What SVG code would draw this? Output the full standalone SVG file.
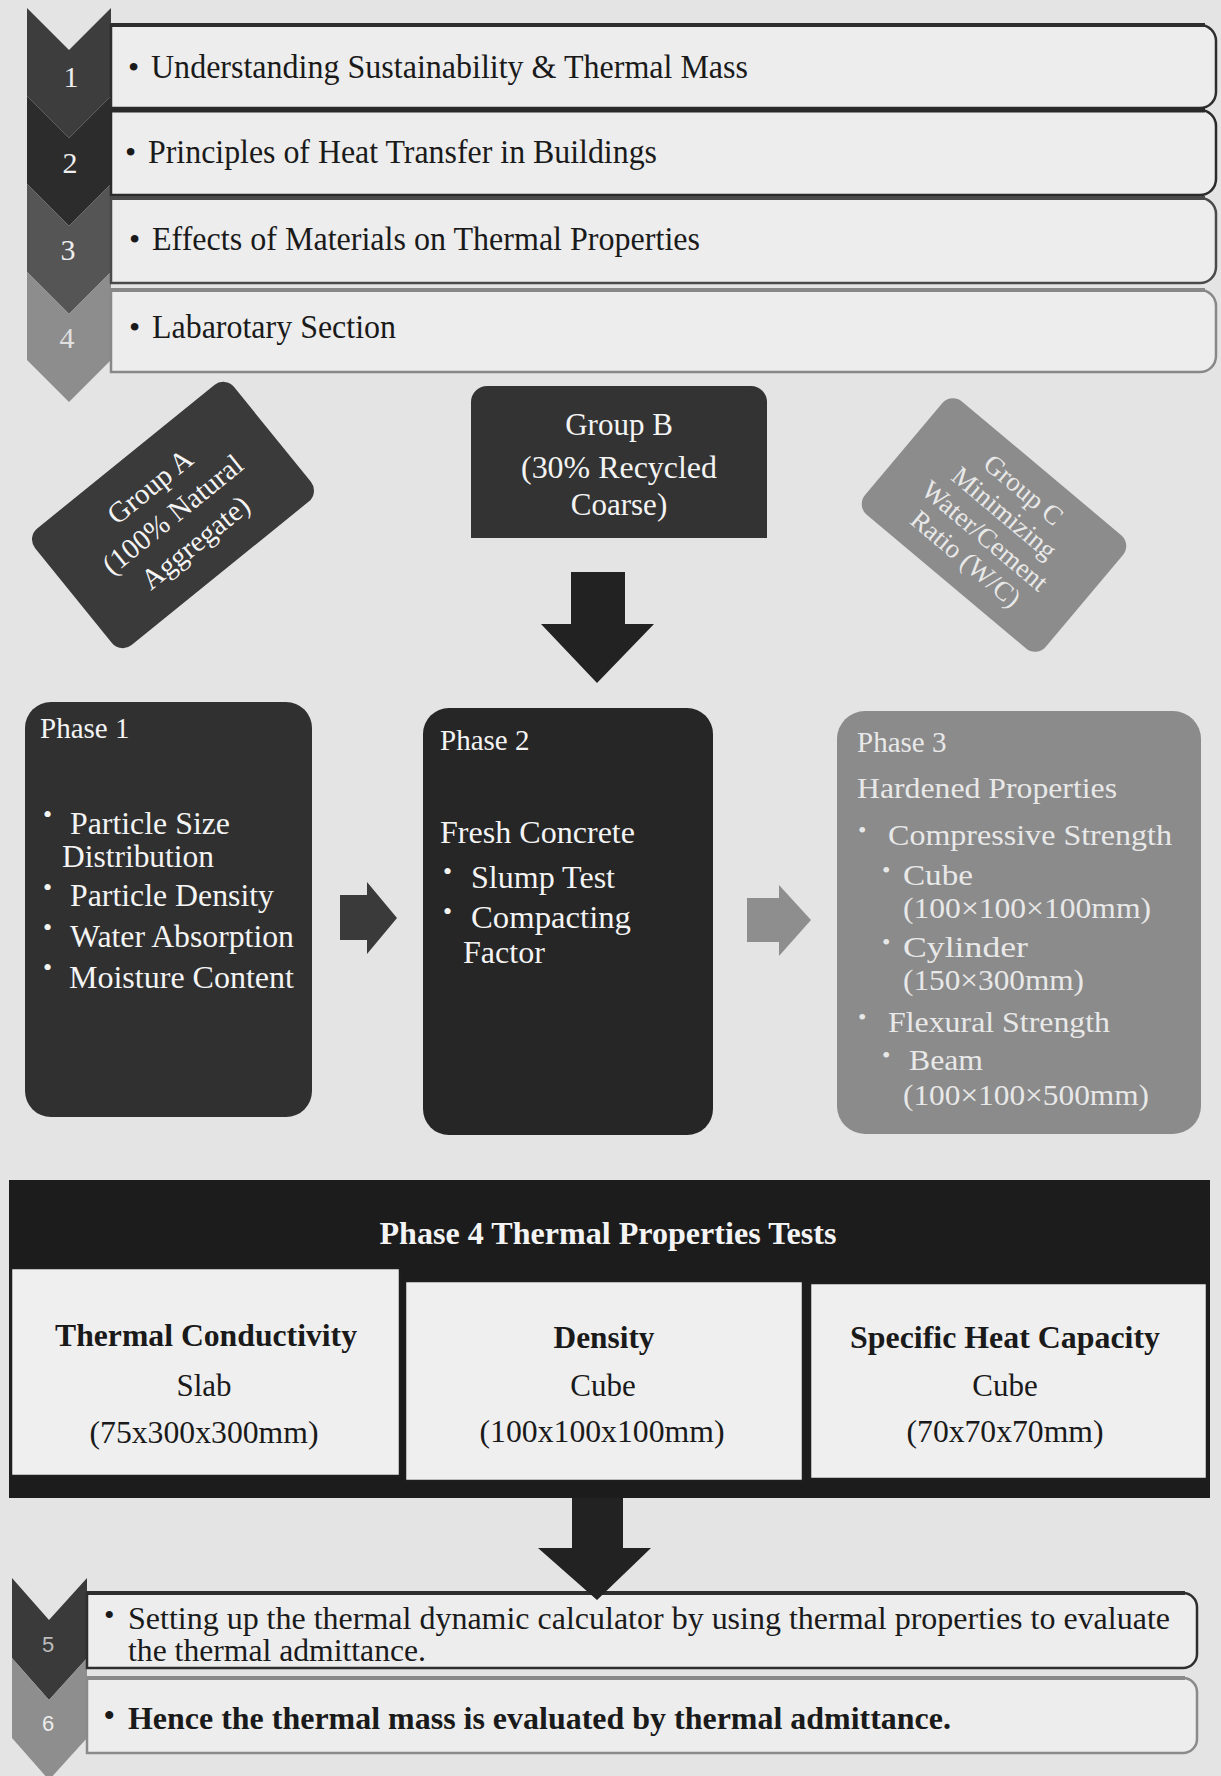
<svg xmlns="http://www.w3.org/2000/svg" width="1221" height="1776" viewBox="0 0 1221 1776">
<style>
.t{font-family:"Liberation Serif","Times New Roman",serif;fill:#1a1a1a}
.w{font-family:"Liberation Serif","Times New Roman",serif;fill:#f4f4f4}
.lt{font-family:"Liberation Serif","Times New Roman",serif;fill:#e8e8e8}
.b{font-weight:bold}
.bar{fill:#ededed;stroke-width:2.5}
.num{font-family:"Liberation Serif","Times New Roman",serif;font-size:30px;text-anchor:middle}
.nums{font-family:"Liberation Sans",Arial,sans-serif;font-size:22px;text-anchor:middle}
.cell{fill:#efefef;stroke:#1e1e1e;stroke-width:2.5}
</style>
<rect x="0" y="0" width="1221" height="1776" fill="#e4e4e4"/>

<g id="steps-top">
  <g id="chev1"><polygon points="27,8 69,50 111,8 111,96 69,138 27,96" fill="#3d3d3d"/><text class="num" x="71" y="87" fill="#eeeeee">1</text></g>
  <g id="chev2"><polygon points="27,96 69,138 111,96 111,184 69,226 27,184" fill="#2c2c2c"/><text class="num" x="70" y="173" fill="#eeeeee">2</text></g>
  <g id="chev3"><polygon points="27,184 69,226 111,184 111,272 69,314 27,272" fill="#555555"/><text class="num" x="68" y="260" fill="#eeeeee">3</text></g>
  <g id="chev4"><polygon points="27,272 69,314 111,272 111,360 69,402 27,360" fill="#8d8d8d"/><text class="num" x="67" y="348" fill="#e0e0e0">4</text></g>

  <g id="bar1"><path class="bar" stroke="#2e2e2e" d="M111,25 H1200 A16,16 0 0 1 1216,41 V92 A16,16 0 0 1 1200,108 H111 Z"/><line x1="111" y1="25" x2="1205" y2="25" stroke="#2e2e2e" stroke-width="4"/>
    <text class="t" x="128" y="78" font-size="32">•</text><text class="t" x="151" y="78" font-size="34" textLength="597" lengthAdjust="spacingAndGlyphs">Understanding Sustainability &amp; Thermal Mass</text></g>
  <g id="bar2"><path class="bar" stroke="#2a2a2a" d="M111,110 H1200 A16,16 0 0 1 1216,126 V179 A16,16 0 0 1 1200,195 H111 Z"/><line x1="111" y1="110" x2="1205" y2="110" stroke="#2a2a2a" stroke-width="5"/>
    <text class="t" x="125" y="163" font-size="32">•</text><text class="t" x="148" y="163" font-size="34" textLength="509" lengthAdjust="spacingAndGlyphs">Principles of Heat Transfer in Buildings</text></g>
  <g id="bar3"><path class="bar" stroke="#4a4a4a" d="M111,198 H1200 A16,16 0 0 1 1216,214 V267 A16,16 0 0 1 1200,283 H111 Z"/><line x1="111" y1="198" x2="1205" y2="198" stroke="#4a4a4a" stroke-width="4"/>
    <text class="t" x="129" y="250" font-size="32">•</text><text class="t" x="152" y="250" font-size="34" textLength="548" lengthAdjust="spacingAndGlyphs">Effects of Materials on Thermal Properties</text></g>
  <g id="bar4"><path class="bar" stroke="#888888" d="M111,290 H1200 A16,16 0 0 1 1216,306 V356 A16,16 0 0 1 1200,372 H111 Z"/><line x1="111" y1="290" x2="1205" y2="290" stroke="#888888" stroke-width="4"/>
    <text class="t" x="129" y="338" font-size="32">•</text><text class="t" x="152" y="338" font-size="34" textLength="244" lengthAdjust="spacingAndGlyphs">Labarotary Section</text></g>
</g>

<g id="groupA" transform="translate(173,515) rotate(-39)">
  <rect x="-128" y="-75" width="256" height="150" rx="14" fill="#3a3a3a"/>
  <g class="w" font-size="29" text-anchor="middle">
    <text x="0" y="-27">Group A</text>
    <text x="0" y="9">(100% Natural</text>
    <text x="0" y="45">Aggregate)</text>
  </g>
</g>

<g id="groupB">
  <path d="M471,538 V402 A16,16 0 0 1 487,386 H751 A16,16 0 0 1 767,402 V538 Z" fill="#333333"/>
  <g class="w" font-size="31" text-anchor="middle">
    <text x="619" y="435">Group B</text>
    <text x="619" y="478" textLength="196" lengthAdjust="spacingAndGlyphs">(30% Recycled</text>
    <text x="619" y="515">Coarse)</text>
  </g>
</g>

<g id="groupC" transform="translate(994,525) rotate(40)">
  <rect x="-118" y="-74" width="236" height="148" rx="14" fill="#8c8c8c"/>
  <g class="lt" font-size="27" text-anchor="middle">
    <text x="0" y="-37">Group C</text>
    <text x="0" y="-7">Minimizing</text>
    <text x="0" y="23">Water/Cement</text>
    <text x="0" y="53">Ratio (W/C)</text>
  </g>
</g>

<g id="phase1">
  <rect x="25" y="702" width="287" height="415" rx="26" fill="#303030"/>
  <g class="w" font-size="31">
    <text x="40" y="738" font-size="29">Phase 1</text>
    <text x="43" y="823" font-size="26">•</text><text x="70" y="834" textLength="160" lengthAdjust="spacingAndGlyphs">Particle Size</text>
    <text x="62" y="867" textLength="152" lengthAdjust="spacingAndGlyphs">Distribution</text>
    <text x="43" y="896" font-size="26">•</text><text x="70" y="906" textLength="204" lengthAdjust="spacingAndGlyphs">Particle Density</text>
    <text x="43" y="936" font-size="26">•</text><text x="70" y="947" textLength="224" lengthAdjust="spacingAndGlyphs">Water Absorption</text>
    <text x="43" y="976" font-size="26">•</text><text x="69" y="988" textLength="225" lengthAdjust="spacingAndGlyphs">Moisture Content</text>
  </g>
</g>

<g id="phase2">
  <rect x="423" y="708" width="290" height="427" rx="26" fill="#262626"/>
  <g class="w" font-size="31">
    <text x="440" y="750" font-size="29">Phase 2</text>
    <text x="440" y="843" textLength="195" lengthAdjust="spacingAndGlyphs">Fresh Concrete</text>
    <text x="443" y="880" font-size="26">•</text><text x="471" y="888" textLength="144" lengthAdjust="spacingAndGlyphs">Slump Test</text>
    <text x="443" y="920" font-size="26">•</text><text x="471" y="928" textLength="160" lengthAdjust="spacingAndGlyphs">Compacting</text>
    <text x="463" y="963" textLength="82" lengthAdjust="spacingAndGlyphs">Factor</text>
  </g>
</g>

<g id="phase3">
  <rect x="837" y="711" width="364" height="423" rx="28" fill="#8b8b8b"/>
  <g class="lt" font-size="30">
    <text x="857" y="752" font-size="29">Phase 3</text>
    <text x="857" y="798" textLength="260" lengthAdjust="spacingAndGlyphs">Hardened Properties</text>
    <text x="858" y="838" font-size="24">•</text><text x="888" y="845" textLength="284" lengthAdjust="spacingAndGlyphs">Compressive Strength</text>
    <text x="882" y="878" font-size="24">•</text><text x="903" y="885" textLength="70" lengthAdjust="spacingAndGlyphs">Cube</text>
    <text x="903" y="918" textLength="248" lengthAdjust="spacingAndGlyphs">(100×100×100mm)</text>
    <text x="882" y="950" font-size="24">•</text><text x="903" y="957" textLength="125" lengthAdjust="spacingAndGlyphs">Cylinder</text>
    <text x="903" y="990" textLength="181" lengthAdjust="spacingAndGlyphs">(150×300mm)</text>
    <text x="858" y="1025" font-size="24">•</text><text x="888" y="1032" textLength="222" lengthAdjust="spacingAndGlyphs">Flexural Strength</text>
    <text x="882" y="1063" font-size="24">•</text><text x="909" y="1070" textLength="74" lengthAdjust="spacingAndGlyphs">Beam</text>
    <text x="903" y="1105" textLength="246" lengthAdjust="spacingAndGlyphs">(100×100×500mm)</text>
  </g>
</g>

<g id="phase4">
  <rect x="9" y="1180" width="1201" height="318" fill="#1c1c1c"/>
  <text class="w b" x="608" y="1244" font-size="31" text-anchor="middle" textLength="457" lengthAdjust="spacingAndGlyphs">Phase 4 Thermal Properties Tests</text>
  <g id="cell-conductivity">
    <rect class="cell" x="11" y="1268" width="389" height="208"/>
    <g class="t" font-size="31" text-anchor="middle">
      <text class="b" x="206" y="1346" textLength="302" lengthAdjust="spacingAndGlyphs">Thermal Conductivity</text>
      <text x="204" y="1396">Slab</text>
      <text x="204" y="1443" textLength="229" lengthAdjust="spacingAndGlyphs">(75x300x300mm)</text>
    </g>
  </g>
  <g id="cell-density">
    <rect class="cell" x="405" y="1281" width="398" height="200"/>
    <g class="t" font-size="31" text-anchor="middle">
      <text class="b" x="604" y="1348" textLength="101" lengthAdjust="spacingAndGlyphs">Density</text>
      <text x="603" y="1396">Cube</text>
      <text x="602" y="1442" textLength="245" lengthAdjust="spacingAndGlyphs">(100x100x100mm)</text>
    </g>
  </g>
  <g id="cell-heat">
    <rect class="cell" x="810" y="1283" width="397" height="196"/>
    <g class="t" font-size="31" text-anchor="middle">
      <text class="b" x="1005" y="1348" textLength="310" lengthAdjust="spacingAndGlyphs">Specific Heat Capacity</text>
      <text x="1005" y="1396">Cube</text>
      <text x="1005" y="1442" textLength="197" lengthAdjust="spacingAndGlyphs">(70x70x70mm)</text>
    </g>
  </g>
</g>

<g id="steps-bottom">
  <g id="chev5"><polygon points="12,1578 49,1620 87,1578 87,1658 49,1700 12,1658" fill="#3a3a3a"/><text class="nums" x="48" y="1652" fill="#bdbdbd">5</text></g>
  <g id="chev6"><polygon points="12,1658 49,1700 87,1658 87,1738 49,1780 12,1738" fill="#8e8e8e"/><text class="nums" x="48" y="1731" fill="#ececec">6</text></g>
  <g id="bar5"><path class="bar" stroke="#2e2e2e" d="M87,1593 H1183 A14,14 0 0 1 1197,1607 V1654 A14,14 0 0 1 1183,1668 H87 Z"/><line x1="87" y1="1593" x2="1185" y2="1593" stroke="#2e2e2e" stroke-width="4"/>
    <text class="t" x="104" y="1625" font-size="30">•</text>
    <text class="t" x="128" y="1629" font-size="31" textLength="1042" lengthAdjust="spacingAndGlyphs">Setting up the thermal dynamic calculator by using thermal properties to evaluate</text>
    <text class="t" x="128" y="1661" font-size="31" textLength="298" lengthAdjust="spacingAndGlyphs">the thermal admittance.</text></g>
  <g id="bar6"><path class="bar" stroke="#8a8a8a" d="M87,1678 H1183 A14,14 0 0 1 1197,1692 V1739 A14,14 0 0 1 1183,1753 H87 Z"/><line x1="87" y1="1678" x2="1185" y2="1678" stroke="#8a8a8a" stroke-width="4"/>
    <text class="t b" x="104" y="1725" font-size="30">•</text>
    <text class="t b" x="128" y="1729" font-size="31" textLength="823" lengthAdjust="spacingAndGlyphs">Hence the thermal mass is evaluated by thermal admittance.</text></g>
</g>

<g id="connectors">
  <polygon points="571,572 625,572 625,624 654,624 597,683 541,624 571,624" fill="#222222"/>
  <polygon points="340,895 367,895 367,882 397,918 367,954 367,940 340,940" fill="#3a3a3a"/>
  <polygon points="747,898 779,898 779,885 811,920 779,956 779,942 747,942" fill="#8e8e8e"/>
  <polygon points="572,1498 623,1498 623,1548 651,1548 597,1600 538,1548 572,1548" fill="#222222"/>
</g>
</svg>
